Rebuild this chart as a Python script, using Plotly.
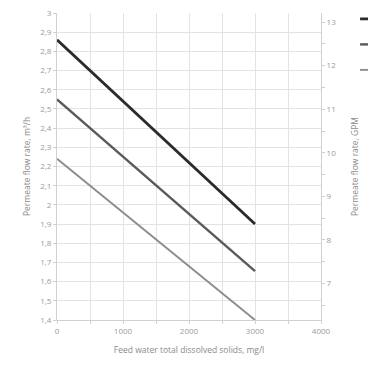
import plotly.graph_objects as go

tds = [0, 3000]
series_names = ["Series 1", "Series 2", "Series 3"]
flow_high = [2.86, 1.90]
flow_mid = [2.55, 1.655]
flow_low = [2.24, 1.40]
colors = ["#2b2b2b", "#5a5a5a", "#8c8c8c"]
widths = [2.8, 2.4, 1.9]

M3H_PER_GPM = 0.227125
y_range = [1.4, 3.0]

fig = go.Figure()
for name, vals, c, w in zip(series_names, [flow_high, flow_mid, flow_low], colors, widths):
    fig.add_trace(go.Scatter(x=tds, y=vals, mode="lines", name=name,
                             line=dict(color=c, width=w)))
fig.add_trace(go.Scatter(x=[0], y=[10], yaxis="y2", mode="markers", marker=dict(opacity=0),
                         showlegend=False, hoverinfo="skip"))

# legend swatches (legend text falls outside the visible page in the reference)
for i, (c, w) in enumerate(zip(colors, widths)):
    yp = 1.0 - (6 + i * 26) / 313
    fig.add_shape(type="line", xref="paper", yref="paper", x0=1.148, x1=1.2, y0=yp, y1=yp,
                  line=dict(color=c, width=w))

font_fam = "Open Sans, Liberation Sans, sans-serif"
grid_c = "#e3e3e3"
txt_c = "#9a9a9a"

fig.update_layout(
    width=368, height=365,
    margin=dict(l=57, r=47, t=7, b=45),
    paper_bgcolor="white", plot_bgcolor="white",
    separators=", ",
    showlegend=False,
    font=dict(family=font_fam, size=8, color=txt_c),
    xaxis=dict(range=[0, 4000], dtick=1000, tick0=0, showgrid=True, gridcolor=grid_c,
               minor=dict(dtick=500, showgrid=True, gridcolor=grid_c, ticks="outside", ticklen=3, tickcolor="#d0d0d0"),
               ticks="outside", ticklen=3, tickcolor="#d0d0d0",
               showline=True, linecolor="#d0d0d0", zeroline=False,
               title=dict(text="Feed water total dissolved solids, mg/l", font=dict(size=8.5, color="#8a8a8a"), standoff=12)),
    yaxis=dict(range=y_range, dtick=0.1, tick0=1.4, showgrid=True, gridcolor=grid_c,
               ticks="outside", ticklen=3, tickcolor="#d0d0d0",
               showline=True, linecolor="#d0d0d0", zeroline=False,
               title=dict(text="Permeate flow rate, m³/h", font=dict(size=8.5, color="#8a8a8a"), standoff=8)),
    yaxis2=dict(overlaying="y", side="right", range=[y_range[0] / M3H_PER_GPM, y_range[1] / M3H_PER_GPM],
                dtick=1, tick0=7, showgrid=False, zeroline=False,
                ticks="outside", ticklen=3, tickcolor="#d0d0d0",
                minor=dict(dtick=0.5, ticks="outside", ticklen=3, tickcolor="#d0d0d0"),
                showline=True, linecolor="#d0d0d0",
                title=dict(text="Permeate flow rate, GPM", font=dict(size=8.5, color="#8a8a8a"), standoff=16)),
)

fig.write_html("out.html")
